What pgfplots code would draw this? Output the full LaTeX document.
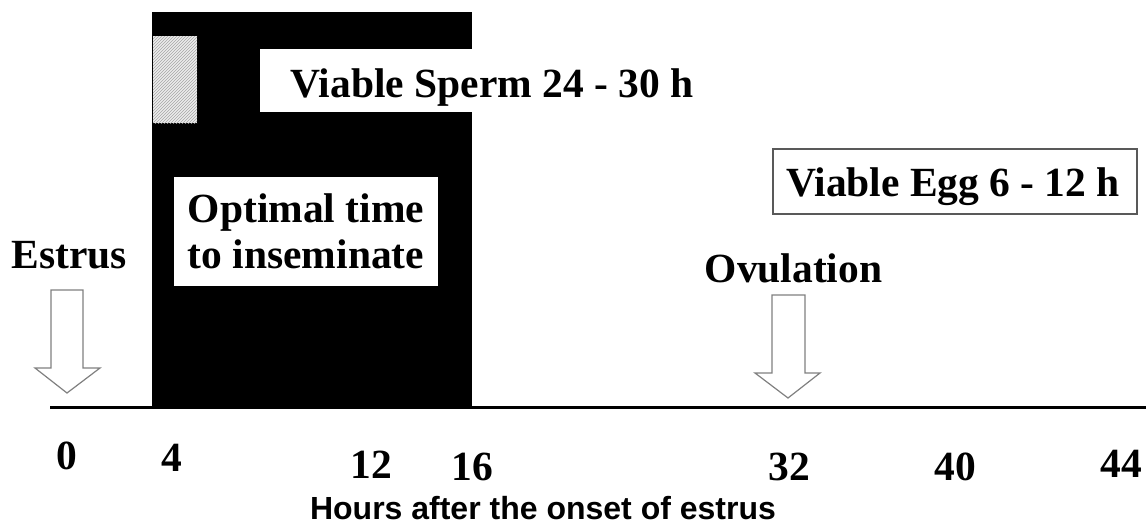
\documentclass[border=0pt]{standalone}
\usepackage{fontspec}
\setmainfont{Liberation Serif}
\newfontfamily\arialf{Liberation Sans}
\usepackage{pgfplots}
\pgfplotsset{compat=1.18}
\usetikzlibrary{patterns}
\newcommand\tb{\fontsize{41.5}{46}\selectfont\bfseries}
\newcommand\ab{\arialf\fontsize{32}{36}\selectfont\bfseries}
\definecolor{arrowgray}{gray}{0.5}
\begin{document}
\begin{tikzpicture}
\begin{axis}[
  hide axis, scale only axis, width=1146pt, height=525pt,
  xmin=0, xmax=1146, ymin=0, ymax=525, y dir=reverse, clip=false]
% black block: sperm viability period
\addplot[fill=black, draw=none] coordinates {(152,12) (472,12) (472,408) (152,408)} -- cycle;
% hatched block
\addplot[fill=gray!15, draw=none] coordinates {(153,36) (197,36) (197,123) (153,123)} -- cycle;
\addplot[pattern=north east lines, pattern color=gray!70, draw=none] coordinates {(153,36) (197,36) (197,123) (153,123)} -- cycle;
% white label boxes
\addplot[fill=white, draw=none] coordinates {(260,49) (710,49) (710,112) (260,112)} -- cycle;
\addplot[fill=white, draw=none] coordinates {(174,177) (438,177) (438,286) (174,286)} -- cycle;
\addplot[fill=white, draw=gray!70!black, line width=1.6pt] coordinates {(773,149) (1137,149) (1137,214) (773,214)} -- cycle;
% time line
\addplot[black, line width=3pt] coordinates {(50,407) (1146,407)};
% arrows
\addplot[fill=white, draw=arrowgray, line width=1.2pt, line join=miter] coordinates {(51,290) (83,290) (83,368) (100,368) (67,393) (35,368) (51,368)} -- cycle;
\addplot[fill=white, draw=arrowgray, line width=1.2pt, line join=miter] coordinates {(772,295) (805,295) (805,373) (820,373) (788,398) (755,373) (772,373)} -- cycle;
% texts
\node[font=\tb, anchor=base, inner sep=0pt] at (axis cs:492,97) {Viable Sperm 24 - 30 h};
\node[font=\tb, anchor=base, inner sep=0pt] at (axis cs:306,222) {Optimal time};
\node[font=\tb, anchor=base, inner sep=0pt] at (axis cs:306,268) {to inseminate};
\node[font=\tb, anchor=base, inner sep=0pt] at (axis cs:69.5,268) {Estrus};
\node[font=\tb, anchor=base, inner sep=0pt] at (axis cs:793.5,282) {Ovulation};
\node[font=\tb, anchor=base, inner sep=0pt] at (axis cs:953,196) {Viable Egg 6 - 12 h};
% hour labels
\node[font=\tb, anchor=base, inner sep=0pt] at (axis cs:67,469) {0};
\node[font=\tb, anchor=base, inner sep=0pt] at (axis cs:172,471) {4};
\node[font=\tb, anchor=base, inner sep=0pt] at (axis cs:371,478) {12};
\node[font=\tb, anchor=base, inner sep=0pt] at (axis cs:472,480) {16};
\node[font=\tb, anchor=base, inner sep=0pt] at (axis cs:789,480) {32};
\node[font=\tb, anchor=base, inner sep=0pt] at (axis cs:955,480) {40};
\node[font=\tb, anchor=base, inner sep=0pt] at (axis cs:1121,477) {44};
\node[font=\ab, anchor=base, inner sep=0pt] at (axis cs:543,519) {Hours after the onset of estrus};
\end{axis}
\pgfresetboundingbox
\useasboundingbox (current axis.south west) rectangle (current axis.north east);
\end{tikzpicture}
\end{document}
